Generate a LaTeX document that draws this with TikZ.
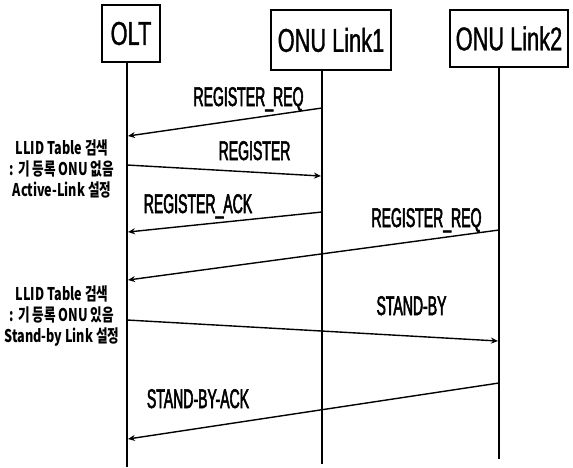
\documentclass[tikz,border=0pt]{standalone}
\usepackage{fontspec}
\setmainfont{Liberation Sans}
\newfontfamily\lblfont[FakeStretch=0.52,FakeBold=2]{Liberation Sans}
\newfontfamily\boxfont[FakeStretch=0.66,FakeBold=1]{Liberation Sans}
\newfontfamily\kofont[FakeStretch=0.72]{Noto Sans CJK KR}
\usetikzlibrary{arrows.meta}
\tikzset{
  actor/.style={draw, line width=2.4pt, inner sep=0pt, font=\boxfont\fontsize{33}{36}\selectfont},
  life/.style={line width=1.9pt},
  msg/.style={line width=1.4pt, -{Stealth[length=7pt,width=6pt]}},
  lbl/.style={inner sep=0pt, anchor=base, font=\lblfont\fontsize{27}{30}\selectfont},
  note/.style={inner sep=0pt, align=center, font=\kofont\bfseries\fontsize{17.5}{21}\selectfont},
}
\begin{document}
\begin{tikzpicture}[x=1pt,y=-1pt]
\useasboundingbox[fill=white] (0,0) rectangle (573,467);
% actors
\node[actor, minimum width=58pt, minimum height=57pt] (olt) at (131,33.5) {OLT};
\node[actor, minimum width=120pt, minimum height=60pt] (onu1) at (331,40) {ONU Link1};
\node[actor, minimum width=118pt, minimum height=57pt] (onu2) at (509,38.5) {ONU Link2};
% lifeline ends
\coordinate (oltE) at (127,467);
\coordinate (onu1E) at (322,464);
\coordinate (onu2E) at (499,459);
\draw[life] (olt.south -| oltE) -- (oltE);
\draw[life] (onu1.south -| onu1E) -- (onu1E);
\draw[life] (onu2.south -| onu2E) -- (onu2E);
% message end points
\coordinate (m1s) at (322,108); \coordinate (m1e) at (128,136);
\coordinate (m2s) at (127,165); \coordinate (m2e) at (321,176);
\coordinate (m3s) at (322,212); \coordinate (m3e) at (128,232);
\coordinate (m4s) at (499,230); \coordinate (m4e) at (128,280);
\coordinate (m5s) at (127,320); \coordinate (m5e) at (498,341);
\coordinate (m6s) at (499,383); \coordinate (m6e) at (128,439);
\draw[msg] (m1s) -- (m1e);
\draw[msg] (m2s) -- (m2e);
\draw[msg] (m3s) -- (m3e);
\draw[msg] (m4s) -- (m4e);
\draw[msg] (m5s) -- (m5e);
\draw[msg] (m6s) -- (m6e);
% labels
\node[lbl] (l1) at (248.5,106) {REGISTER\_REQ};
\node[lbl] (l2) at (254.5,160) {REGISTER};
\node[lbl] (l3) at (198,213) {REGISTER\_ACK};
\node[lbl] (l4) at (426.5,227) {REGISTER\_REQ};
\node[lbl] (l5) at (411.5,315) {STAND-BY};
\node[lbl] (l6) at (198,408) {STAND-BY-ACK};
% notes
\node[note] (n1) at (62,169) {LLID Table 검색\\: 기 등록 ONU 없음\\Active-Link 설정};
\node[note] (n2) at (62,316) {LLID Table 검색\\: 기 등록 ONU 있음\\Stand-by Link 설정};
\end{tikzpicture}
\end{document}
